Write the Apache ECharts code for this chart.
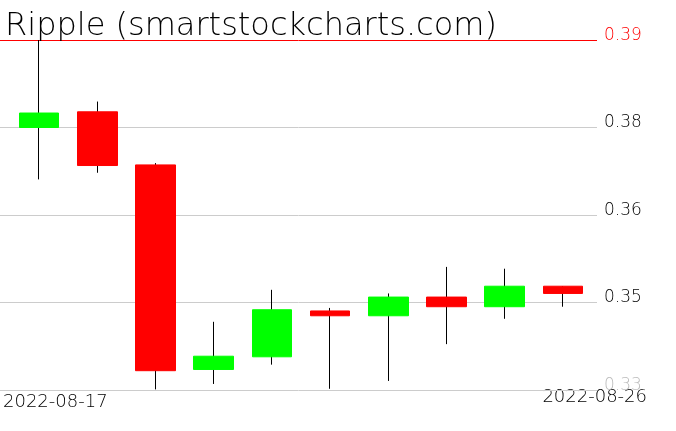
<!DOCTYPE html>
<html>
<head>
<meta charset="utf-8">
<script src="https://cdn.jsdelivr.net/npm/echarts@6/dist/echarts.min.js"></script>
<style>html,body{margin:0;padding:0;background:#fff}#c{width:676px;height:431px}</style>
</head>
<body>
<div id="c"></div>
<script>
// ---- data ----
const dates = ['2022-08-17','2022-08-18','2022-08-19','2022-08-20','2022-08-21','2022-08-22','2022-08-23','2022-08-24','2022-08-25','2022-08-26'];
const opens  = [0.3765, 0.3791, 0.3703, 0.3364, 0.3385, 0.3461, 0.3453, 0.3484, 0.3468, 0.3502];
const closes = [0.3789, 0.3702, 0.3362, 0.3386, 0.3463, 0.3453, 0.3484, 0.3468, 0.3502, 0.3490];
const lows   = [0.3679, 0.3690, 0.3331, 0.3340, 0.3372, 0.3332, 0.3345, 0.3406, 0.3448, 0.3468];
const highs  = [0.3910, 0.3808, 0.3706, 0.3443, 0.3496, 0.3466, 0.3490, 0.3534, 0.3531, 0.3502];
const yTickLabels = ['0.33', '0.35', '0.36', '0.38', '0.39'];
const yMin = 0.333, yMax = 0.391;
const title = 'Ripple (smartstockcharts.com)';

const FONT = 'DejaVu Sans';
const wickData = dates.map((d, i) => [opens[i], closes[i], lows[i], highs[i]]);
const bodyData = dates.map((d, i) => [opens[i], closes[i], Math.min(opens[i], closes[i]), Math.max(opens[i], closes[i])]);

const chart = echarts.init(document.getElementById('c'), null, {renderer: 'canvas'});
chart.setOption({
  animation: false,
  backgroundColor: '#fff',
  title: {
    text: title, left: 0, top: 6,
    textStyle: {fontFamily: FONT, fontWeight: 200, fontSize: 32, color: '#000'}
  },
  grid: [
    {left: 0, right: 79, top: 40, bottom: 41},
    {left: 10, right: 84, top: 40, bottom: 41}
  ],
  xAxis: [
    {gridIndex: 0, type: 'value', min: 0, max: 1, show: false},
    {gridIndex: 1, type: 'category', data: dates, show: false, boundaryGap: true}
  ],
  yAxis: [
    {
      gridIndex: 0, type: 'value', position: 'right', min: 0, max: yTickLabels.length - 1, interval: 1,
      axisLine: {show: false}, axisTick: {show: false},
      splitLine: {show: true, lineStyle: {color: ['#cccccc', '#cccccc', '#cccccc', '#cccccc', '#ff0000'], width: 1}},
      axisLabel: {
        margin: 7,
        formatter: (v, i) => {
          const t = yTickLabels[i];
          if (i === yTickLabels.length - 1) return '{r|' + t + '}';
          if (i === 0) return '{g|' + t + '}';
          return '{k|' + t + '}';
        },
        verticalAlign: 'middle',
        rich: {
          r: {color: '#ff0000', fontFamily: FONT, fontWeight: 200, fontSize: 17, padding: [0, 0, 9, 0]},
          g: {color: '#bbbbbb', fontFamily: FONT, fontWeight: 200, fontSize: 17, padding: [0, 0, 9, 0]},
          k: {color: '#000000', fontFamily: FONT, fontWeight: 200, fontSize: 17, padding: [0, 0, 9, 0]}
        }
      }
    },
    {gridIndex: 1, type: 'value', min: yMin, max: yMax, show: false, splitLine: {show: false}}
  ],
  graphic: [
    {type: 'text', left: 3, top: 393, style: {text: dates[0], fontFamily: FONT, fontWeight: 200, fontSize: 18, fill: '#000'}},
    {type: 'text', right: 29, top: 388, style: {text: dates[dates.length - 1], fontFamily: FONT, fontWeight: 200, fontSize: 18, fill: '#000'}}
  ],
  series: [
    {
      type: 'candlestick', xAxisIndex: 1, yAxisIndex: 1, data: wickData, barWidth: 1,
      itemStyle: {color: '#000', color0: '#000', borderColor: '#000', borderColor0: '#000', borderWidth: 1}
    },
    {
      type: 'candlestick', xAxisIndex: 1, yAxisIndex: 1, data: bodyData, barWidth: 40,
      itemStyle: {color: '#00ff00', color0: '#ff0000', borderColor: '#00ff00', borderColor0: '#ff0000', borderWidth: 1}
    }
  ]
});
</script>
</body>
</html>
